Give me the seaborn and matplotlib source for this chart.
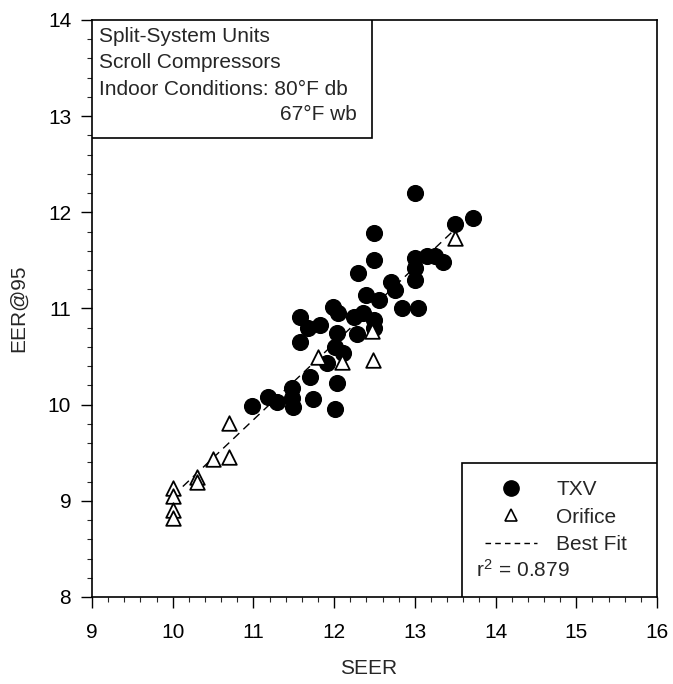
import numpy as np
import pandas as pd
import matplotlib
matplotlib.use("Agg")
import matplotlib.pyplot as plt
from matplotlib.patches import Rectangle
from matplotlib.lines import Line2D
from matplotlib.ticker import MultipleLocator
import seaborn as sns

# TXV units (filled circles)
seer_txv = [13.0, 13.5, 13.72, 12.49, 12.49, 12.29, 13.0, 13.15, 13.25, 13.35,
            13.0, 13.0, 12.7, 12.76, 12.39, 12.55, 12.84, 13.04, 11.58, 11.68,
            11.83, 11.99, 12.05, 12.24, 12.36, 12.49, 12.49, 11.58, 12.03, 12.01,
            12.11, 11.91, 12.28, 11.7, 12.03, 10.98, 11.18, 11.29, 11.48, 11.48,
            11.49, 11.74, 12.01]
eer_txv = [12.2, 11.88, 11.94, 11.79, 11.5, 11.37, 11.53, 11.55, 11.55, 11.48,
           11.42, 11.3, 11.28, 11.19, 11.14, 11.09, 11.0, 11.0, 10.91, 10.8,
           10.83, 11.02, 10.95, 10.91, 10.95, 10.88, 10.8, 10.65, 10.75, 10.6,
           10.54, 10.43, 10.73, 10.29, 10.23, 9.99, 10.08, 10.03, 10.17, 10.07,
           9.98, 10.06, 9.95]

# Orifice units (open triangles)
seer_orf = [13.5, 11.8, 12.1, 12.48, 12.47, 10.7, 10.7, 10.5, 10.3, 10.3,
            10.0, 10.0, 10.0, 10.0]
eer_orf = [11.73, 10.5, 10.44, 10.46, 10.77, 9.81, 9.46, 9.43, 9.25, 9.2,
           9.13, 9.05, 8.9, 8.82]

r2_text = "$r^2$ = 0.879"

df = pd.DataFrame({
    "SEER": seer_txv + seer_orf,
    "EER": eer_txv + eer_orf,
    "Type": ["TXV"] * len(seer_txv) + ["Orifice"] * len(seer_orf),
})

sns.set_style("ticks")
plt.rcParams["font.family"] = ["Liberation Sans", "DejaVu Sans"]
plt.rcParams["mathtext.fontset"] = "custom"
plt.rcParams["mathtext.rm"] = "Liberation Sans"
plt.rcParams["mathtext.it"] = "Liberation Sans"

FS = 15

fig = plt.figure(figsize=(6.73, 6.84), dpi=100)
ax = fig.add_axes([0.1367, 0.1272, 0.8395, 0.8436])

# best fit line through all units
sns.regplot(data=df, x="SEER", y="EER", scatter=False, ci=None, ax=ax,
            line_kws=dict(color="black", lw=1.0, ls=(0, (6, 4))))

sns.scatterplot(data=df[df.Type == "TXV"], x="SEER", y="EER", ax=ax,
                marker="o", color="black", edgecolor="black", s=130, zorder=3)
sns.scatterplot(data=df[df.Type == "Orifice"], x="SEER", y="EER", ax=ax,
                marker="^", color="white", edgecolor="black", linewidth=1.3,
                s=110, zorder=4)

ax.set_xlim(9, 16)
ax.set_ylim(8, 14)
ax.xaxis.set_major_locator(MultipleLocator(1))
ax.yaxis.set_major_locator(MultipleLocator(1))
ax.xaxis.set_minor_locator(MultipleLocator(0.2))
ax.yaxis.set_minor_locator(MultipleLocator(0.2))
ax.tick_params(which="major", direction="out", length=8, width=1.0,
               labelsize=FS, colors="black")
ax.tick_params(which="minor", direction="out", length=3.5, width=0.8)
ax.tick_params(axis="x", which="major", pad=11)
ax.tick_params(axis="y", which="major", pad=7)
for sp in ax.spines.values():
    sp.set_visible(True)
    sp.set_linewidth(1.2)
    sp.set_color("black")

ax.set_xlabel("SEER", fontsize=FS)
ax.set_ylabel("EER@95", fontsize=FS)
ax.xaxis.set_label_coords(0.49, -0.108)
ax.yaxis.set_label_coords(-0.113, 0.5)

# description box, upper left
ax.add_patch(Rectangle((0, 0.795), 0.496, 0.205, transform=ax.transAxes,
                       facecolor="white", edgecolor="black", lw=1.2, zorder=5))
for yy, txt in zip([0.9705, 0.9255, 0.8787], ["Split-System Units",
                   "Scroll Compressors", "Indoor Conditions: 80°F db"]):
    ax.text(0.0124, yy, txt, transform=ax.transAxes, fontsize=FS,
            va="center", ha="left", zorder=6)
ax.text(0.469, 0.8354, "67°F wb", transform=ax.transAxes, fontsize=FS,
        va="center", ha="right", zorder=6)

# legend box, lower right
ax.add_patch(Rectangle((0.655, 0), 0.345, 0.232, transform=ax.transAxes,
                       facecolor="white", edgecolor="black", lw=1.2, zorder=5))
handles = [
    Line2D([], [], marker="o", color="black", ls="none", markersize=11),
    Line2D([], [], marker="^", markerfacecolor="white", markeredgecolor="black",
           ls="none", markersize=9, markeredgewidth=1.2),
    Line2D([], [], color="black", lw=1.0, ls=(0, (4, 3))),
]
leg = ax.legend(handles, ["TXV", "Orifice", "Best Fit"], loc="upper left",
                bbox_to_anchor=(0.696, 0.202), frameon=False, fontsize=FS,
                handlelength=2.5, handletextpad=0.9, labelspacing=0.4,
                borderaxespad=0, borderpad=0)
leg.set_zorder(7)
ax.text(0.68, 0.047, r2_text, transform=ax.transAxes, fontsize=FS,
        va="center", ha="left", zorder=7)

fig.savefig("out.png", dpi=100)
